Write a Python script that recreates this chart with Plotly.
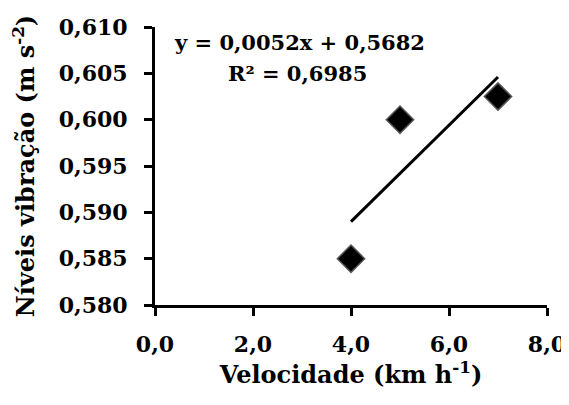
import plotly.graph_objects as go

velocidade = [4, 5, 7]
vibracao = [0.585, 0.600, 0.6025]
slope = 0.0052
intercept = 0.5682
r2 = 0.6985
trend_x = [4, 7]
trend_y = [slope * x + intercept for x in trend_x]

font_family = "DejaVu Serif"

def f(size):
    return dict(family=font_family, size=size, color="black", weight="bold")

fig = go.Figure()
fig.add_trace(go.Scatter(
    x=velocidade, y=vibracao, mode="markers",
    marker=dict(symbol="diamond", size=21, color="black",
                line=dict(color="#555555", width=1.5)),
    showlegend=False))
fig.add_trace(go.Scatter(
    x=trend_x, y=trend_y, mode="lines",
    line=dict(color="black", width=3), showlegend=False))

fig.add_annotation(x=0.043, y=0.6083, xref="paper", yref="y", xanchor="left", yanchor="middle",
                   text="y = 0,0052x + 0,5682", showarrow=False, font=f(21))
fig.add_annotation(x=0.18, y=0.6050, xref="paper", yref="y", xanchor="left", yanchor="middle",
                   text="R² = 0,6985", showarrow=False, font=f(21))

fig.update_layout(
    width=561, height=381,
    margin=dict(l=147, r=22, t=19, b=84),
    paper_bgcolor="white", plot_bgcolor="white",
    separators=",.",
    font=dict(family=font_family, color="black"),
)
fig.update_xaxes(
    range=[0, 8], tickvals=[0, 2, 4, 6, 8], tickformat=".1f", automargin=False,
    showgrid=False, zeroline=False, showline=True, linecolor="black", linewidth=3,
    ticks="outside", ticklen=8, tickwidth=3, tickcolor="black",
    tickfont=f(22), ticklabelstandoff=10,
    title=dict(text="Velocidade (km h<sup>-1</sup>)", standoff=16, font=f(24)),
)
fig.update_yaxes(
    range=[0.580, 0.610], tickvals=[0.580, 0.585, 0.590, 0.595, 0.600, 0.605, 0.610],
    tickformat=".3f", automargin=False,
    showgrid=False, zeroline=False, showline=True, linecolor="black", linewidth=3,
    ticks="outside", ticklen=8, tickwidth=3, tickcolor="black",
    tickfont=f(22), ticklabelstandoff=12,
    title=dict(text="Níveis vibração (m s<sup>-2</sup>)", standoff=20, font=f(24)),
)

fig.write_html("out.html")
